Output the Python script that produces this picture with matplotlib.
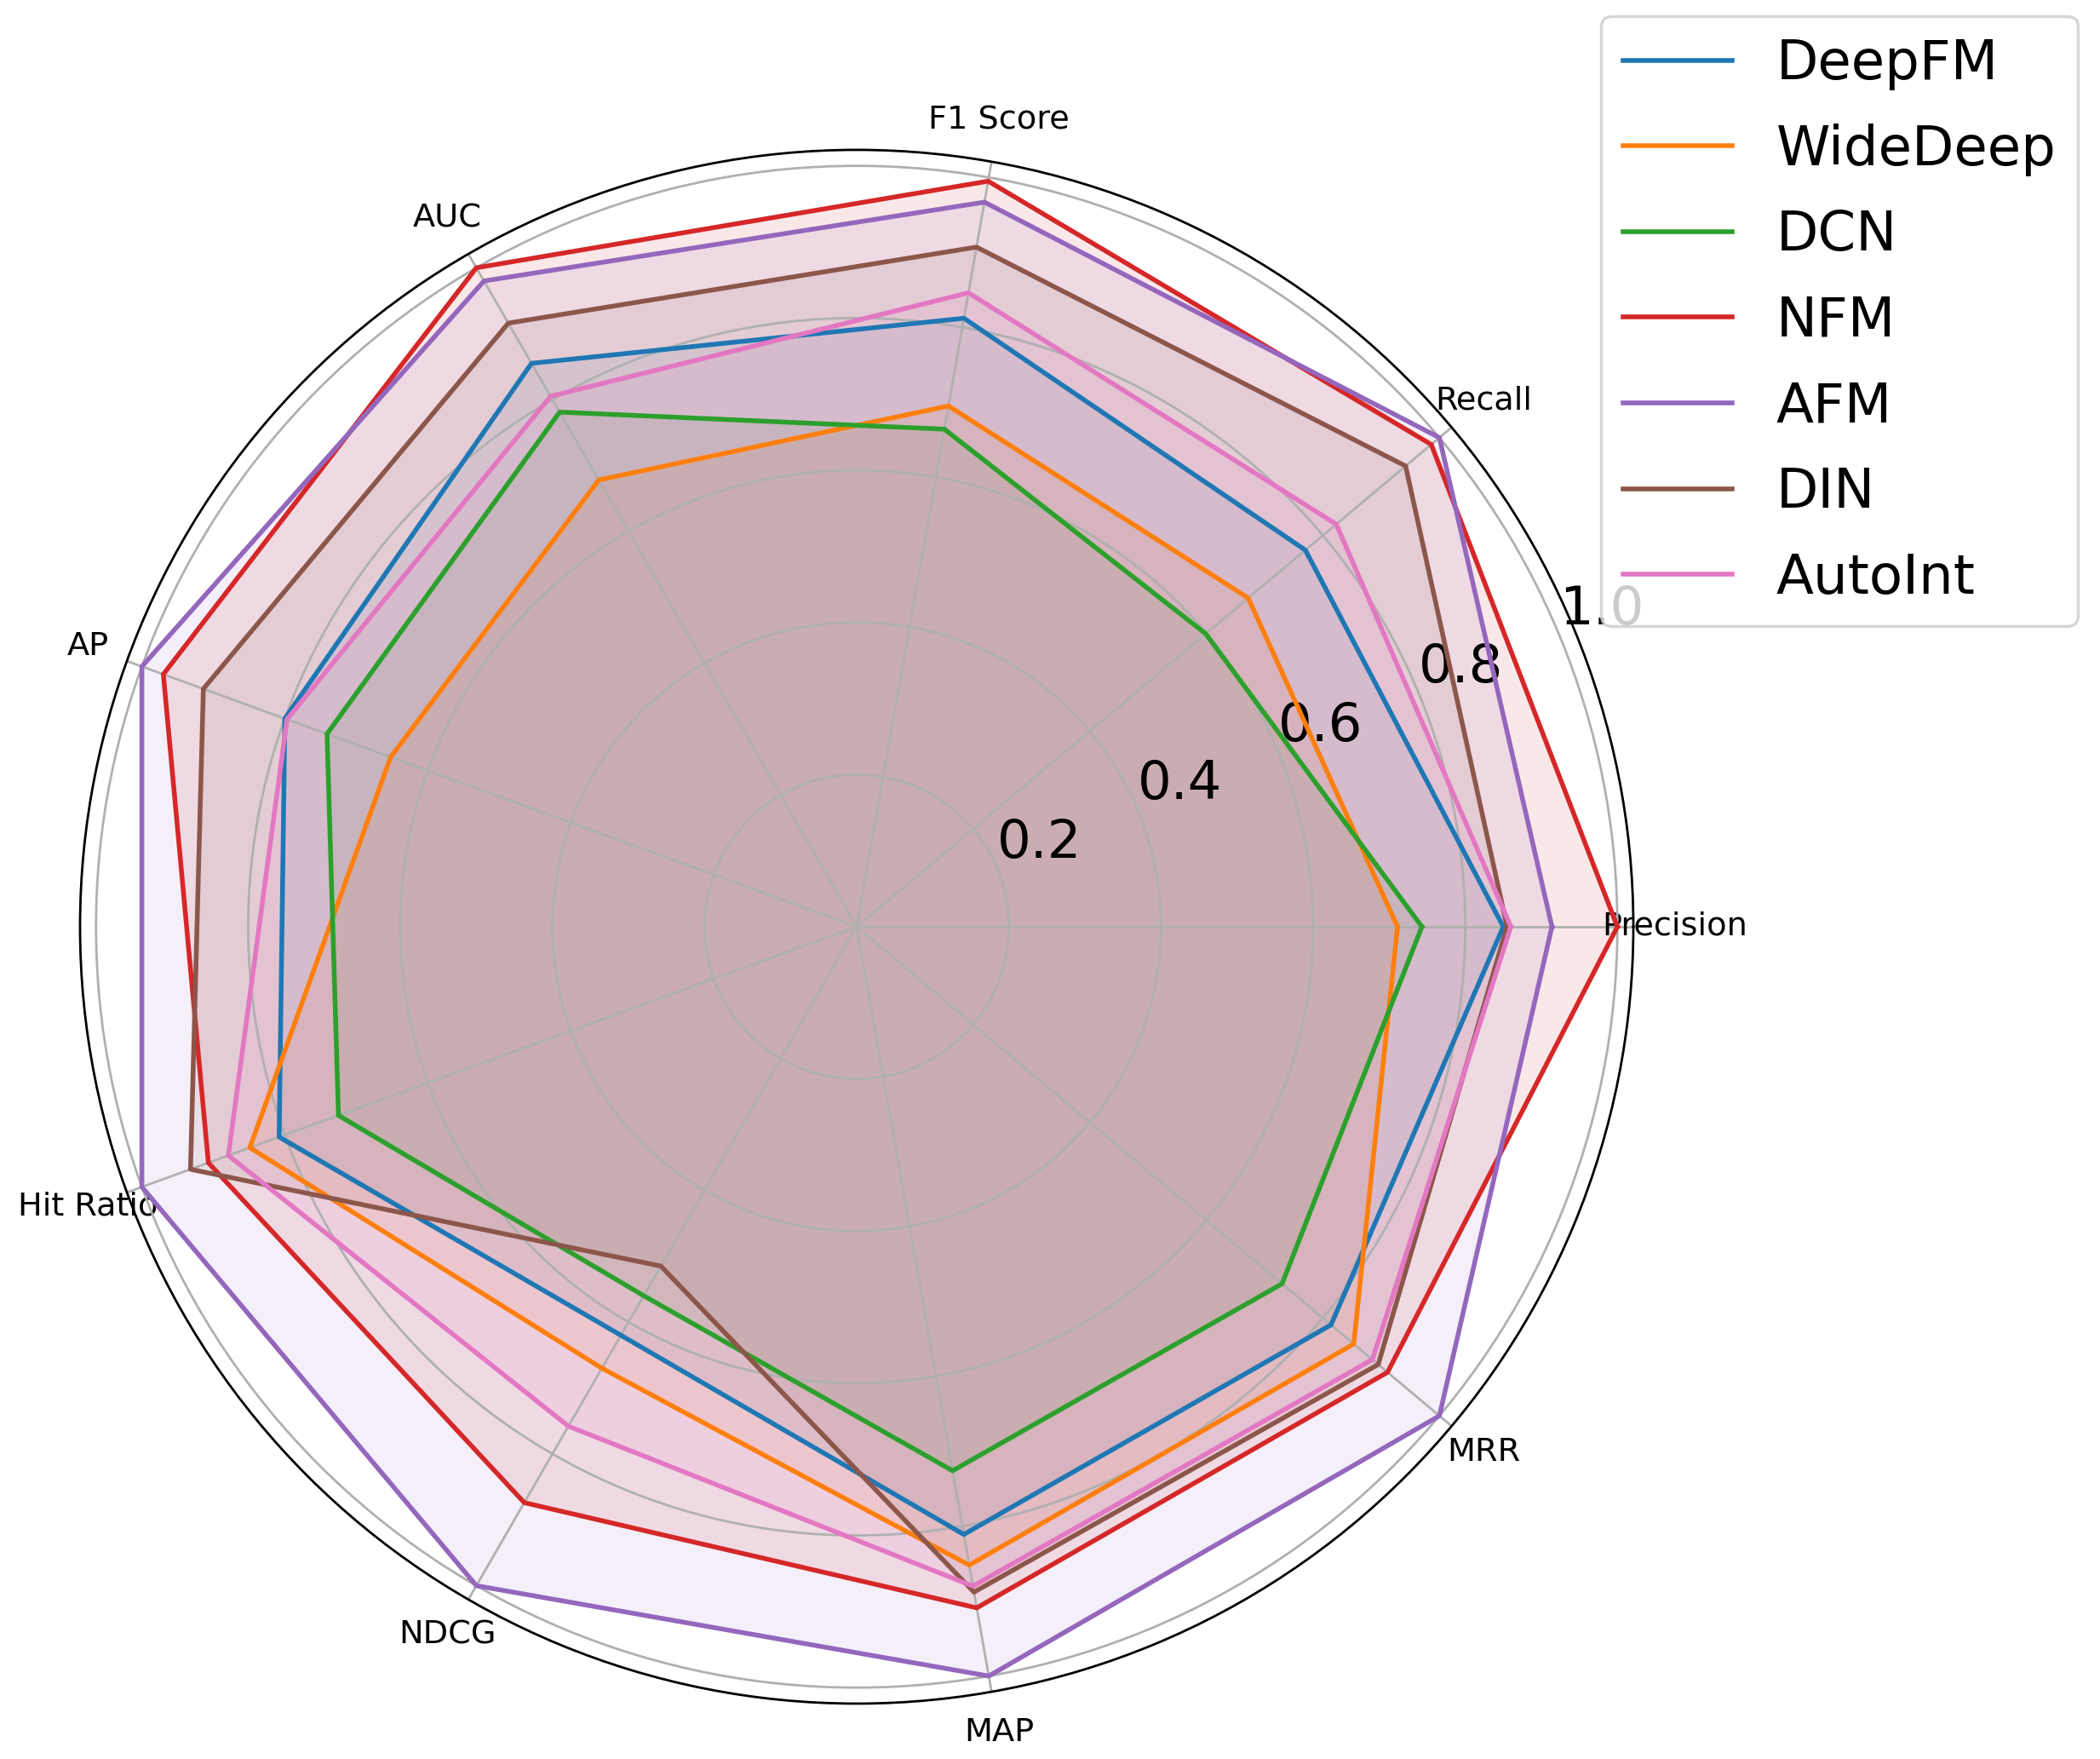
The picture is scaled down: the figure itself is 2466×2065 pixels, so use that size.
import numpy as np
import matplotlib
matplotlib.use("Agg")
import matplotlib.pyplot as plt

categories = ['Precision', 'Recall', 'F1 Score', 'AUC', 'AP', 'Hit Ratio', 'NDCG', 'MAP', 'MRR']
models = ['DeepFM', 'WideDeep', 'DCN', 'NFM', 'AFM', 'DIN', 'AutoInt']

deepfm   = [0.850, 0.770, 0.812, 0.855, 0.800, 0.808, 0.620, 0.811, 0.814]
widedeep = [0.711, 0.672, 0.695, 0.678, 0.652, 0.849, 0.670, 0.852, 0.853]
dcn      = [0.743, 0.599, 0.664, 0.781, 0.741, 0.725, 0.560, 0.726, 0.730]
nfm      = [1.000, 0.986, 0.995, 1.000, 0.970, 0.907, 0.874, 0.909, 0.911]
afm      = [0.914, 1.000, 0.967, 0.980, 1.000, 1.000, 1.000, 1.000, 1.000]
din      = [0.855, 0.942, 0.907, 0.916, 0.914, 0.932, 0.515, 0.888, 0.895]
autoint  = [0.860, 0.823, 0.846, 0.805, 0.797, 0.879, 0.758, 0.880, 0.885]

series = [deepfm, widedeep, dcn, nfm, afm, din, autoint]
colors = ['tab:blue', 'tab:orange', 'tab:green', 'tab:red', 'tab:purple', 'tab:brown', 'tab:pink']
rticks = [0.2, 0.4, 0.6, 0.8, 1.0]

n = len(categories)
angles = np.linspace(0, 2 * np.pi, n, endpoint=False).tolist()
angles_closed = angles + angles[:1]

fig = plt.figure(figsize=(2466 / 250, 2065 / 250), dpi=250)
ax = fig.add_axes([0.0381, 0.0315, 0.7397, 0.8833], polar=True)

for name, vals, c in zip(models, series, colors):
    v = list(vals) + [vals[0]]
    ax.plot(angles_closed, v, color=c, linewidth=1.6, label=name)
    ax.fill(angles_closed, v, color=c, alpha=0.1)

ax.set_xticks(angles)
ax.set_xticklabels(categories, fontsize=11)
ax.set_ylim(0, 1.021)
ax.set_yticks(rticks)
ax.set_yticklabels([f"{t:.1f}" for t in rticks], fontsize=18)

ax.legend(loc='upper right', bbox_to_anchor=(0.9895, 0.991), bbox_transform=fig.transFigure,
          fontsize=18.5, borderaxespad=0, labelspacing=0.6)

fig.savefig('out.png', dpi=250)
